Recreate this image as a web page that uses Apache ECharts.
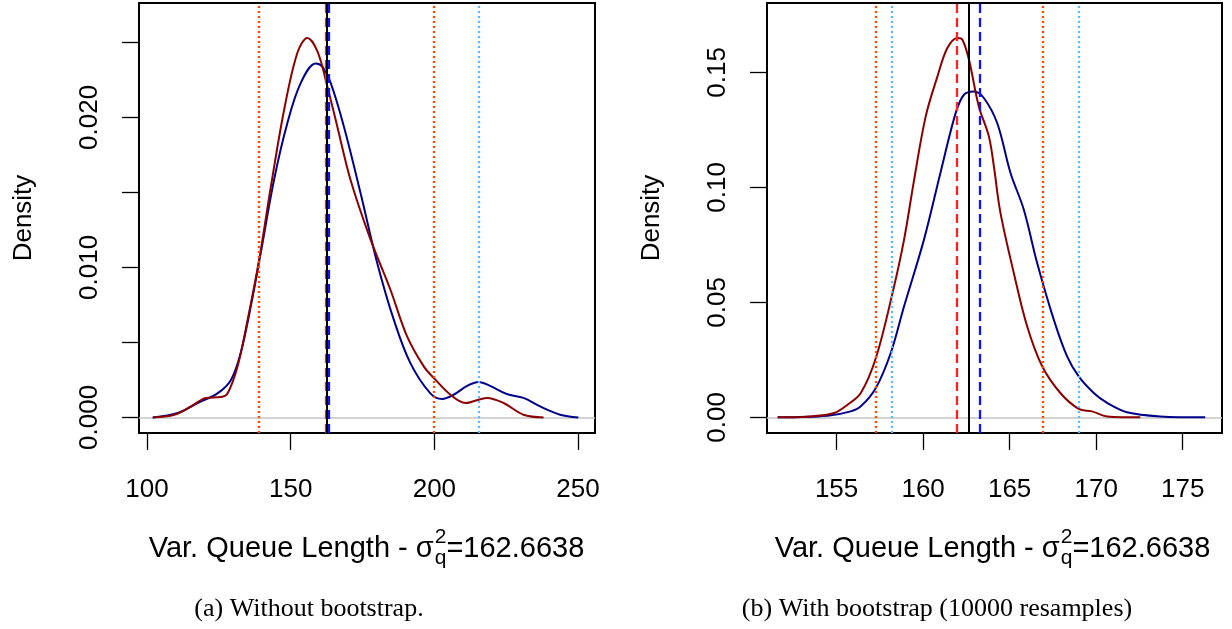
<!DOCTYPE html>
<html><head><meta charset="utf-8">
<script src="https://cdn.jsdelivr.net/npm/echarts@6/dist/echarts.min.js"></script>
<style>html,body{margin:0;padding:0;background:#fff}#c{width:1232px;height:629px}</style>
</head><body><div id="c"></div>
<script>
// ---------- data ----------
// Left panel: without bootstrap
const leftRedX = [102.0, 109.5, 115.3, 120.5, 125.7, 128.0, 131.5, 135.0, 139.0, 143.1, 147.7, 152.3, 155.8, 159.3, 162.7, 166.2, 170.8, 177.8, 184.7, 190.5, 196.3, 199.8, 205.6, 210.8, 218.3, 224.1, 231.0, 238.0];
const leftRedY = [0, 0.00018, 0.00073, 0.0013, 0.00136, 0.0016, 0.0034, 0.0065, 0.0105, 0.0154, 0.0205, 0.0243, 0.0253, 0.0244, 0.0221, 0.0194, 0.01585, 0.01185, 0.00851, 0.0054, 0.0034, 0.00263, 0.00151, 0.00096, 0.0013, 0.00096, 0.00018, 0];
const leftBlueX = [102.0, 110.7, 117.6, 124.5, 129.2, 132.6, 136.1, 139.6, 144.2, 148.8, 153.5, 158.7, 160.9, 163.9, 168.5, 174.3, 180.1, 185.9, 191.7, 198.6, 202.7, 206.7, 211.4, 215.4, 219.4, 225.2, 231.0, 236.8, 243.75, 250.1];
const leftBlueY = [0, 0.0003, 0.00096, 0.0016, 0.0025, 0.0043, 0.0074, 0.011, 0.01585, 0.0196, 0.0223, 0.0236, 0.0234, 0.0223, 0.0194, 0.01496, 0.0103, 0.0065, 0.0036, 0.0016, 0.00123, 0.00151, 0.0021, 0.00236, 0.0021, 0.00156, 0.0013, 0.00073, 0.00018, 0];
const leftOrangeDotted = [139.0, 199.7];
const leftSkyDotted = [139.0, 215.4];
const leftRedDashed = [162.2];
const leftBlueDashed = [163.4];
const leftXTicks = [100, 150, 200, 250];
const leftYTicks = [0, 0.005, 0.010, 0.015, 0.020, 0.025];
const leftYLabels = [0, 0.010, 0.020];

// Right panel: with bootstrap (10000 resamples)
const rightRedX = [151.6, 153.5, 154.86, 155.63, 156.4, 157.27, 158.23, 158.9, 159.48, 160.15, 160.83, 161.4, 161.98, 162.27, 162.65, 163.22, 163.8, 164.09, 164.47, 165.24, 166.01, 166.88, 167.93, 168.99, 169.76, 170.63, 172.55];
const rightRedY = [0, 0.0004, 0.0019, 0.0055, 0.0106, 0.0258, 0.054, 0.0773, 0.1033, 0.1309, 0.1483, 0.1606, 0.165, 0.1642, 0.1555, 0.1352, 0.1222, 0.1091, 0.0889, 0.0628, 0.0396, 0.0222, 0.0106, 0.0037, 0.0026, 0.0004, 0];
const rightBlueX = [151.6, 154.48, 155.82, 156.4, 157.27, 158.13, 158.9, 160.05, 161.0, 161.88, 162.36, 162.94, 163.51, 164.28, 165.05, 165.82, 166.59, 167.55, 168.32, 168.99, 169.86, 170.63, 171.78, 173.7, 176.3];
const rightBlueY = [0, 0.0007, 0.0026, 0.0048, 0.0128, 0.028, 0.0483, 0.0773, 0.1063, 0.1323, 0.1403, 0.1417, 0.1389, 0.128, 0.1063, 0.0903, 0.0671, 0.0425, 0.0265, 0.0178, 0.0106, 0.0063, 0.0022, 0.0004, 0];
const rightOrangeDotted = [157.27, 166.9];
const rightSkyDotted = [158.17, 168.99];
const rightRedDashed = [161.92];
const rightBlueDashed = [163.30];
const rightXTicks = [155, 160, 165, 170, 175];
const rightYTicks = [0, 0.05, 0.10, 0.15];
const rightYLabels = [0, 0.05, 0.10, 0.15];

const trueValue = 162.6638;
const xTitleMain = 'Var. Queue Length - σ';
const xTitleSup = '2';
const xTitleSub = 'q';
const xTitleTail = '=162.6638';
const yTitle = 'Density';
const captionA = '(a) Without bootstrap.';
const captionB = '(b) With bootstrap (10000 resamples)';

// ---------- layout / style ----------
const FONT = 'Liberation Sans';
const AXF = 26;
const TITLEF = 29;
const grids = [
  {left: 139, top: 3, width: 456, height: 430},
  {left: 767, top: 3, width: 455, height: 430}
];
const ranges = [
  {xmin: 97.2, xmax: 255.9, ymin: -0.00104, ymax: 0.02763},
  {xmin: 150.98, xmax: 177.27, ymin: -0.0068, ymax: 0.1802}
];

function zip(xs, ys) { return xs.map((x, i) => [x, ys[i]]); }

function xAxisCfg(gi, ticks) {
  return {
    type: 'value', gridIndex: gi, min: ranges[gi].xmin, max: ranges[gi].xmax,
    axisLine: {show: true, onZero: false, lineStyle: {color: '#000', width: 2}},
    axisTick: {show: true, inside: false, length: 17, lineStyle: {color: '#000', width: 1.3}, customValues: ticks},
    axisLabel: {customValues: ticks, margin: 44, color: '#000', fontFamily: FONT, fontSize: AXF, formatter: v => String(v)},
    splitLine: {show: false}
  };
}
function yAxisCfg(gi, ticks, labels, digits) {
  return {
    type: 'value', gridIndex: gi, min: ranges[gi].ymin, max: ranges[gi].ymax,
    name: yTitle, nameLocation: 'middle', nameRotate: 90, nameGap: 102,
    nameTextStyle: {color: '#000', fontFamily: FONT, fontSize: AXF},
    axisLine: {show: true, onZero: false, lineStyle: {color: '#000', width: 2}},
    axisTick: {show: true, inside: false, length: 17, lineStyle: {color: '#000', width: 1.3}, customValues: ticks},
    axisLabel: {customValues: labels, rotate: 90, margin: 36, color: '#000', fontFamily: FONT, fontSize: AXF,
      formatter: v => Number(v).toFixed(digits)},
    splitLine: {show: false}
  };
}

function vlines(vals, color, type, width) {
  return vals.map(v => ({xAxis: v, lineStyle: {color, type, width}}));
}

function panelSeries(gi, redX, redY, blueX, blueY, orangeDot, skyDot, redDash, blueDash) {
  return [
    {
      type: 'line', xAxisIndex: gi, yAxisIndex: gi, data: zip(blueX, blueY), smooth: 0.35,
      showSymbol: false, symbol: 'none', lineStyle: {color: '#00008B', width: 2}, z: 3,
      markLine: {silent: true, symbol: 'none', label: {show: false}, animation: false, z: 1,
        data: [{yAxis: 0, lineStyle: {color: '#c4c4c4', type: 'solid', width: 1.6}}]}
    },
    {
      type: 'line', xAxisIndex: gi, yAxisIndex: gi, data: zip(redX, redY), smooth: 0.35,
      showSymbol: false, symbol: 'none', lineStyle: {color: '#8B0000', width: 2}, z: 4,
      markLine: {silent: true, symbol: 'none', label: {show: false}, animation: false, z: 6,
        data: [].concat(
          vlines(skyDot, '#5CB8FF', [2, 3], 2.3),
          vlines(orangeDot, '#FF4500', [2, 3], 2.3),
          vlines(redDash, '#FF2020', [9, 5], 2.3),
          vlines(blueDash, '#1010FF', [9, 5], 2.3),
          vlines([trueValue], '#000000', 'solid', 2)
        )}
    }
  ];
}

// x title built from pieces (σ with stacked super/subscript)
const mctx = document.createElement('canvas').getContext('2d');
function tw(text, size) { mctx.font = size + 'px "' + FONT + '"'; return mctx.measureText(text).width; }
function xTitle(cx, cy) {
  const S = TITLEF, s = Math.round(TITLEF * 0.72);
  const w1 = tw(xTitleMain, S), ws = Math.max(tw(xTitleSup, s), tw(xTitleSub, s)), w2 = tw(xTitleTail, S);
  const x0 = cx - (w1 + ws + w2) / 2;
  const base = {fill: '#000', fontFamily: FONT, align: 'left', verticalAlign: 'middle'};
  return [
    {type: 'text', x: x0, y: cy, style: Object.assign({text: xTitleMain, fontSize: S}, base)},
    {type: 'text', x: x0 + w1 + 1, y: cy - S * 0.42, style: Object.assign({text: xTitleSup, fontSize: s}, base)},
    {type: 'text', x: x0 + w1 + 1, y: cy + S * 0.33, style: Object.assign({text: xTitleSub, fontSize: s}, base)},
    {type: 'text', x: x0 + w1 + ws + 1, y: cy, style: Object.assign({text: xTitleTail, fontSize: S}, base)}
  ];
}

const chart = echarts.init(document.getElementById('c'), null, {renderer: 'canvas'});
chart.setOption({
  animation: false,
  backgroundColor: '#fff',
  grid: grids.map(g => Object.assign({show: true, borderColor: '#000', borderWidth: 2, backgroundColor: 'transparent', containLabel: false}, g)),
  xAxis: [xAxisCfg(0, leftXTicks), xAxisCfg(1, rightXTicks)],
  yAxis: [yAxisCfg(0, leftYTicks, leftYLabels, 3), yAxisCfg(1, rightYTicks, rightYLabels, 2)],
  series: [].concat(
    panelSeries(0, leftRedX, leftRedY, leftBlueX, leftBlueY, leftOrangeDotted, leftSkyDotted, leftRedDashed, leftBlueDashed),
    panelSeries(1, rightRedX, rightRedY, rightBlueX, rightBlueY, rightOrangeDotted, rightSkyDotted, rightRedDashed, rightBlueDashed)
  ),
  graphic: [].concat(
    xTitle(366, 549),
    xTitle(992, 549),
    [
      {type: 'text', x: 309, y: 609, style: {text: captionA, fill: '#000', fontFamily: 'Liberation Serif', fontSize: 26, align: 'center', verticalAlign: 'middle'}},
      {type: 'text', x: 937, y: 609, style: {text: captionB, fill: '#000', fontFamily: 'Liberation Serif', fontSize: 26, align: 'center', verticalAlign: 'middle'}}
    ]
  )
});
</script>
</body></html>
